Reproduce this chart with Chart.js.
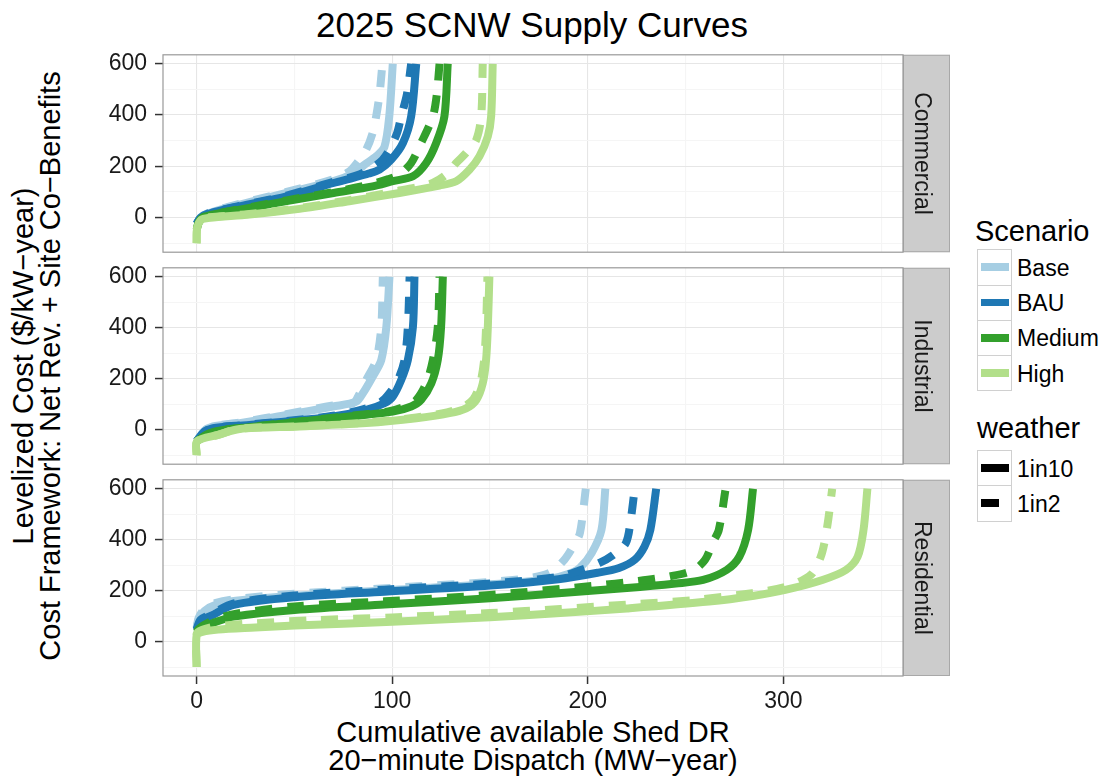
<!DOCTYPE html>
<html><head><meta charset="utf-8">
<script src="https://cdn.jsdelivr.net/npm/chart.js@4.4.0/dist/chart.umd.min.js"></script>
<style>
html,body{margin:0;padding:0;background:#fff;}
#wrap{position:relative;width:1104px;height:783px;overflow:hidden;font-family:'Liberation Sans',Arial,Helvetica,sans-serif;color:#000;}
canvas{position:absolute;left:0;}
.t{position:absolute;white-space:nowrap;}
.box{position:absolute;box-sizing:border-box;border:1px solid #d0d0d0;background:#fff;}
.ln{position:absolute;}
</style></head><body><div id="wrap">
<div class="t" style="left:232px;top:7px;width:600px;text-align:center;font-size:35px;line-height:35px;">2025 SCNW Supply Curves</div>
<div class="t" style="left:-313.5px;top:339px;width:700px;height:54px;text-align:center;font-size:29px;line-height:27px;transform:rotate(-90deg);">Levelized Cost ($/kW−year)<br>Cost Framework: Net Rev. + Site Co−Benefits</div>
<div class="t" style="left:233px;top:718px;width:600px;text-align:center;font-size:29px;line-height:28px;">Cumulative available Shed DR<br>20−minute Dispatch (MW−year)</div>
<canvas id="c0" width="960" height="227" style="top:40px"></canvas>
<canvas id="c1" width="960" height="226" style="top:253px"></canvas>
<canvas id="c2" width="960" height="318" style="top:465px"></canvas>
<div id="legend"></div>
</div>
<script>
// ---------- data ----------
const panels = ['Commercial', 'Industrial', 'Residential'];
const scenarios = ['Base', 'BAU', 'Medium', 'High'];
const weathers = ['1in10', '1in2'];
const scenarioColors = ['#A6CEE3', '#1F78B4', '#33A02C', '#B2DF8A'];
const xTicks = [0, 50, 100, 150, 200, 250, 300, 350];
const yTicks = [-100, 0, 100, 200, 300, 400, 500, 600];

// [cumulative MW-year, levelized cost $/kW-year]
const com_Base_1in10 = [[0,-25],[2,0],[6.6,18],[22,51],[46,96],[70,142],[80,172],[86,207],[92,240],[96,275],[98.5,395],[100.3,600]];
const com_Base_1in2 = [[0,-25],[2,0],[6.6,20],[22,54],[46,100],[70,150],[78,180],[82,213],[86.7,265],[90,330],[91.8,395],[93.5,480],[95,600]];
const com_BAU_1in10 = [[0,-25],[2,-2],[6.6,16],[22,44],[46,83],[70,135],[80,155],[88,172],[93.5,187],[99.5,226],[105.5,291],[109.7,395],[112.3,600]];
const com_BAU_1in2 = [[0,-25],[2,-1],[6.6,18],[22,46],[46,86],[70,140],[82,165],[90,195],[95,225],[98.6,265],[102.5,330],[104.6,395],[107.5,480],[109.7,600]];
const com_Medium_1in10 = [[0,-47],[1,-20],[3,0],[6.6,9],[22,31],[46,64],[70,96],[90,122],[100.3,142],[110.6,161],[117.4,213],[122.5,291],[126.7,395],[128.4,600]];
const com_Medium_1in2 = [[0,-47],[1,-20],[3,0],[6.6,10],[22,33],[46,67],[70,100],[88,128],[98,150],[103.7,168],[109.7,213],[114.8,291],[120.8,395],[122.8,480],[124.2,600]];
const com_High_1in10 = [[0,-100],[0.3,-40],[2.4,-8],[6.6,-1],[27,12],[52.6,34],[78,64],[103.7,96],[124.2,125],[132.7,142],[139.5,187],[144.6,239],[148.9,317],[150.6,395],[151.4,600]];
const com_High_1in2 = [[0,-100],[0.3,-40],[2.4,-7],[6.6,1],[27,14],[52.6,37],[78,68],[100,100],[114,120],[120.8,135],[127.6,168],[132.7,213],[137.8,252],[143,304],[145.5,395],[146.3,600]];

const ind_Base_1in10 = [[0,-45],[4,-5],[8.3,13],[22,26],[45.8,58],[69.7,91],[81.6,110],[85,143],[90,208],[94.4,273],[97,403],[98.6,600]];
const ind_Base_1in2 = [[0,-45],[4,-4],[8.3,14],[22,28],[45.8,61],[69.7,95],[80,104],[82.5,130],[86.7,195],[91.8,273],[94.4,403],[95.2,600]];
const ind_BAU_1in10 = [[0,-45],[4,-8],[8.3,6],[22,16],[45.8,32],[69.7,52],[86.7,78],[96,104],[100.3,130],[104.6,195],[108,273],[110.6,403],[111.4,600]];
const ind_BAU_1in2 = [[0,-45],[4,-7],[8.3,7],[22,17],[45.8,34],[69.7,55],[85,80],[94.4,110],[98.6,143],[102.9,195],[106.3,273],[108,403],[108.9,600]];
const ind_Medium_1in10 = [[0,-45],[5,-20],[10,-6],[22,6],[45.8,26],[78,52],[100.3,71],[109.7,91],[114.8,117],[120,182],[123.3,273],[125,403],[125.9,600]];
const ind_Medium_1in2 = [[0,-45],[5,-20],[10,-5],[22,7],[45.8,27],[78,54],[98,72],[106.3,91],[112.3,117],[117.4,182],[120.8,273],[123.3,403],[124.2,600]];
const ind_High_1in10 = [[0,-100],[0.3,-45],[11,-20],[22,3],[52.6,13],[86.7,26],[112.3,45],[129.3,65],[137.8,84],[143,117],[146.3,182],[148,273],[148.9,403],[149.7,600]];
const ind_High_1in2 = [[0,-100],[0.3,-45],[11,-20],[22,4],[52.6,14],[86.7,28],[112.3,48],[128,68],[136,88],[141.5,120],[145,182],[147,273],[148,403],[148.7,600]];

const res_Base_1in10 = [[0,50],[1,85],[4,120],[10,145],[20,160],[50,180],[100,203],[150,225],[180,245],[190,265],[196,290],[202,348],[207,438],[209,600]];
const res_Base_1in2 = [[0,55],[1,92],[4,128],[10,152],[20,167],[50,188],[100,211],[150,234],[172,252],[181,272],[188,321],[193,380],[196,426],[199,600]];
const res_BAU_1in10 = [[0,45],[2,80],[7.5,102],[19,144],[50,174],[96,196],[150,220],[185,245],[205,270],[216,289],[224,321],[229,373],[232,438],[235,600]];
const res_BAU_1in2 = [[0,48],[2,86],[7.5,108],[19,150],[50,181],[96,204],[150,228],[185,254],[196,280],[206,309],[213,340],[219.5,387],[222,480],[224,600]];
const res_Medium_1in10 = [[0,35],[1,45],[4,58],[10,78],[19,98],[50,124],[96,146],[150,170],[190,193],[220,210],[245,228],[259,242],[271,281],[277.5,333],[282,438],[284.5,600]];
const res_Medium_1in2 = [[0,38],[1,50],[4,66],[10,88],[19,108],[50,138],[96,158],[150,183],[202,218],[226,238],[242,256],[254,280],[260,321],[264,390],[267,438],[270.5,600]];
const res_High_1in10 = [[0,-100],[0,25],[3,38],[11,47],[30,55],[50,63],[100,78],[150,96],[186,112],[220,130],[262,157],[285,180],[301,203],[320,242],[332,281],[338,333],[341,438],[343,600]];
const res_High_1in2 = [[0,-100],[0,30],[3,47],[10,60],[30,72],[60,84],[100,95],[150,112],[186,128],[220,145],[254,163],[284,190],[301,214],[310,242],[315,269],[319,330],[321,387],[323,480],[325,600]];

// lookup table built from the arrays above
const seriesTable = {
  Commercial: {Base:[com_Base_1in10,com_Base_1in2], BAU:[com_BAU_1in10,com_BAU_1in2], Medium:[com_Medium_1in10,com_Medium_1in2], High:[com_High_1in10,com_High_1in2]},
  Industrial: {Base:[ind_Base_1in10,ind_Base_1in2], BAU:[ind_BAU_1in10,ind_BAU_1in2], Medium:[ind_Medium_1in10,ind_Medium_1in2], High:[ind_High_1in10,ind_High_1in2]},
  Residential: {Base:[res_Base_1in10,res_Base_1in2], BAU:[res_BAU_1in10,res_BAU_1in2], Medium:[res_Medium_1in10,res_Medium_1in2], High:[res_High_1in10,res_High_1in2]}
};

// ---------- styling / layout ----------
const FONT = "'Liberation Sans', Arial, Helvetica, sans-serif";
Chart.defaults.font.family = FONT;
const MAJOR = '#E6E6E6', MINOR = '#F5F5F5';
const LINE_W = 8;
const DASH = [17, 15];
const panelTop = [55, 268, 480];
const panelH = [197, 196, 196];

const panelDecor = {
  id: 'panelDecor',
  afterDraw(chart, args, opts) {
    const ctx = chart.ctx, a = chart.chartArea;
    ctx.save();
    ctx.fillStyle = '#CCCCCC';
    ctx.fillRect(a.right, a.top, 47, a.bottom - a.top);
    ctx.strokeStyle = '#a8a8a8';
    ctx.lineWidth = 1;
    ctx.strokeRect(a.right + 0.5, a.top + 0.5, 46, a.bottom - a.top - 1);
    ctx.strokeStyle = '#999999';
    ctx.lineWidth = 1.2;
    ctx.strokeRect(a.left, a.top, a.right - a.left, a.bottom - a.top);
    ctx.fillStyle = '#1a1a1a';
    ctx.font = '23px ' + FONT;
    ctx.translate(a.right + 12, (a.top + a.bottom) / 2);
    ctx.rotate(Math.PI / 2);
    ctx.textAlign = 'center';
    ctx.textBaseline = 'alphabetic';
    ctx.fillText(opts.label, 0, 0);
    ctx.restore();
  }
};

const layoutPad = [
  {top: 15, bottom: 15},
  {top: 15, bottom: 15},
  {top: 15, bottom: 57}
];

panels.forEach((p, pi) => {
  const isBottom = pi === panels.length - 1;
  const datasets = [];
  let k = 0;
  scenarios.forEach((s, si) => {
    weathers.forEach((w, wi) => {
      datasets.push({
        label: s + ' ' + w,
        data: seriesTable[p][s][wi].map(([x, y]) => ({x, y})),
        borderColor: scenarioColors[si],
        borderWidth: LINE_W,
        borderDash: wi === 1 ? DASH : [],
        borderCapStyle: 'butt',
        borderJoinStyle: 'round',
        tension: 0.3,
        pointRadius: 0,
        fill: false,
        order: 20 - k
      });
      k++;
    });
  });
  const canvas = document.getElementById('c' + pi);
  const chart = new Chart(canvas, {
    type: 'line',
    data: {datasets},
    plugins: [panelDecor],
    options: {
      responsive: false,
      maintainAspectRatio: false,
      animation: false,
      events: [],
      layout: {padding: {left: 0, right: 57, top: layoutPad[pi].top, bottom: layoutPad[pi].bottom}},
      plugins: {legend: {display: false}, tooltip: {enabled: false}, panelDecor: {label: p}},
      scales: {
        x: {
          type: 'linear', min: -17.2, max: 361.2,
          afterBuildTicks: sc => { sc.ticks = xTicks.map(v => ({value: v})); },
          afterFit: sc => { sc.height = isBottom ? 50 : 0; },
          border: {display: false},
          grid: {
            color: c => (c.tick && c.tick.value % 100 === 0) ? MAJOR : MINOR,
            lineWidth: 1.1,
            drawTicks: isBottom,
            tickLength: 8,
            tickWidth: 1.5,
            tickColor: c => (c.tick && c.tick.value % 100 === 0) ? '#333333' : 'rgba(0,0,0,0)'
          },
          ticks: {
            display: isBottom, autoSkip: false, maxRotation: 0, padding: 4,
            color: '#1a1a1a', font: {size: 23},
            callback: v => (v % 100 === 0 ? String(v) : '')
          }
        },
        y: {
          type: 'linear', min: -135, max: 635,
          afterBuildTicks: sc => { sc.ticks = yTicks.map(v => ({value: v})); },
          afterFit: sc => { sc.width = 163; },
          border: {display: false},
          grid: {
            color: c => (c.tick && c.tick.value % 200 === 0) ? MAJOR : MINOR,
            lineWidth: 1.1,
            tickLength: 8,
            tickWidth: 1.5,
            tickColor: c => (c.tick && c.tick.value % 200 === 0) ? '#333333' : 'rgba(0,0,0,0)'
          },
          ticks: {
            autoSkip: false, padding: 8, color: '#1a1a1a', font: {size: 23},
            callback: v => (v % 200 === 0 ? String(v) : '')
          }
        }
      }
    }
  });
  // fit the plot area exactly onto the panel rectangle
  for (let pass = 0; pass < 3; pass++) {
    const a = chart.chartArea;
    const topOff = a.top;
    const botOff = chart.height - a.bottom;
    const newH = Math.round(topOff + panelH[pi] + botOff);
    if (newH !== chart.height) chart.resize(960, newH);
  }
  canvas.style.top = (panelTop[pi] - chart.chartArea.top) + 'px';
});

// ---------- legend (HTML) ----------
const lg = document.getElementById('legend');
function add(html) { lg.insertAdjacentHTML('beforeend', html); }
add('<div class="t" style="left:975px;top:216.5px;font-size:29px;line-height:29px;">Scenario</div>');
const rowH = 35.3, boxL = 976.5, boxW = 35.7;
scenarios.forEach((s, i) => {
  const top = 249.3 + i * rowH;
  add(`<div class="box" style="left:${boxL}px;top:${top}px;width:${boxW}px;height:${rowH + 1}px;"></div>`);
  add(`<div class="ln" style="left:980.5px;top:${top + rowH / 2 - 3.5}px;width:28.5px;height:7.5px;background:${scenarioColors[i]};"></div>`);
  add(`<div class="t" style="left:1017px;top:${top + 1.5}px;font-size:23px;line-height:${rowH}px;">${s}</div>`);
});
add('<div class="t" style="left:977px;top:413.5px;font-size:29px;line-height:29px;">weather</div>');
weathers.forEach((w, i) => {
  const top = 450 + i * rowH;
  add(`<div class="box" style="left:${boxL}px;top:${top}px;width:${boxW}px;height:${rowH + 1}px;"></div>`);
  add(`<div class="ln" style="left:980.5px;top:${top + rowH / 2 - 4}px;width:${i === 0 ? 28.5 : 18}px;height:8px;background:#000;"></div>`);
  add(`<div class="t" style="left:1017px;top:${top + 1.5}px;font-size:23px;line-height:${rowH}px;">${w}</div>`);
});
</script>
</body></html>
